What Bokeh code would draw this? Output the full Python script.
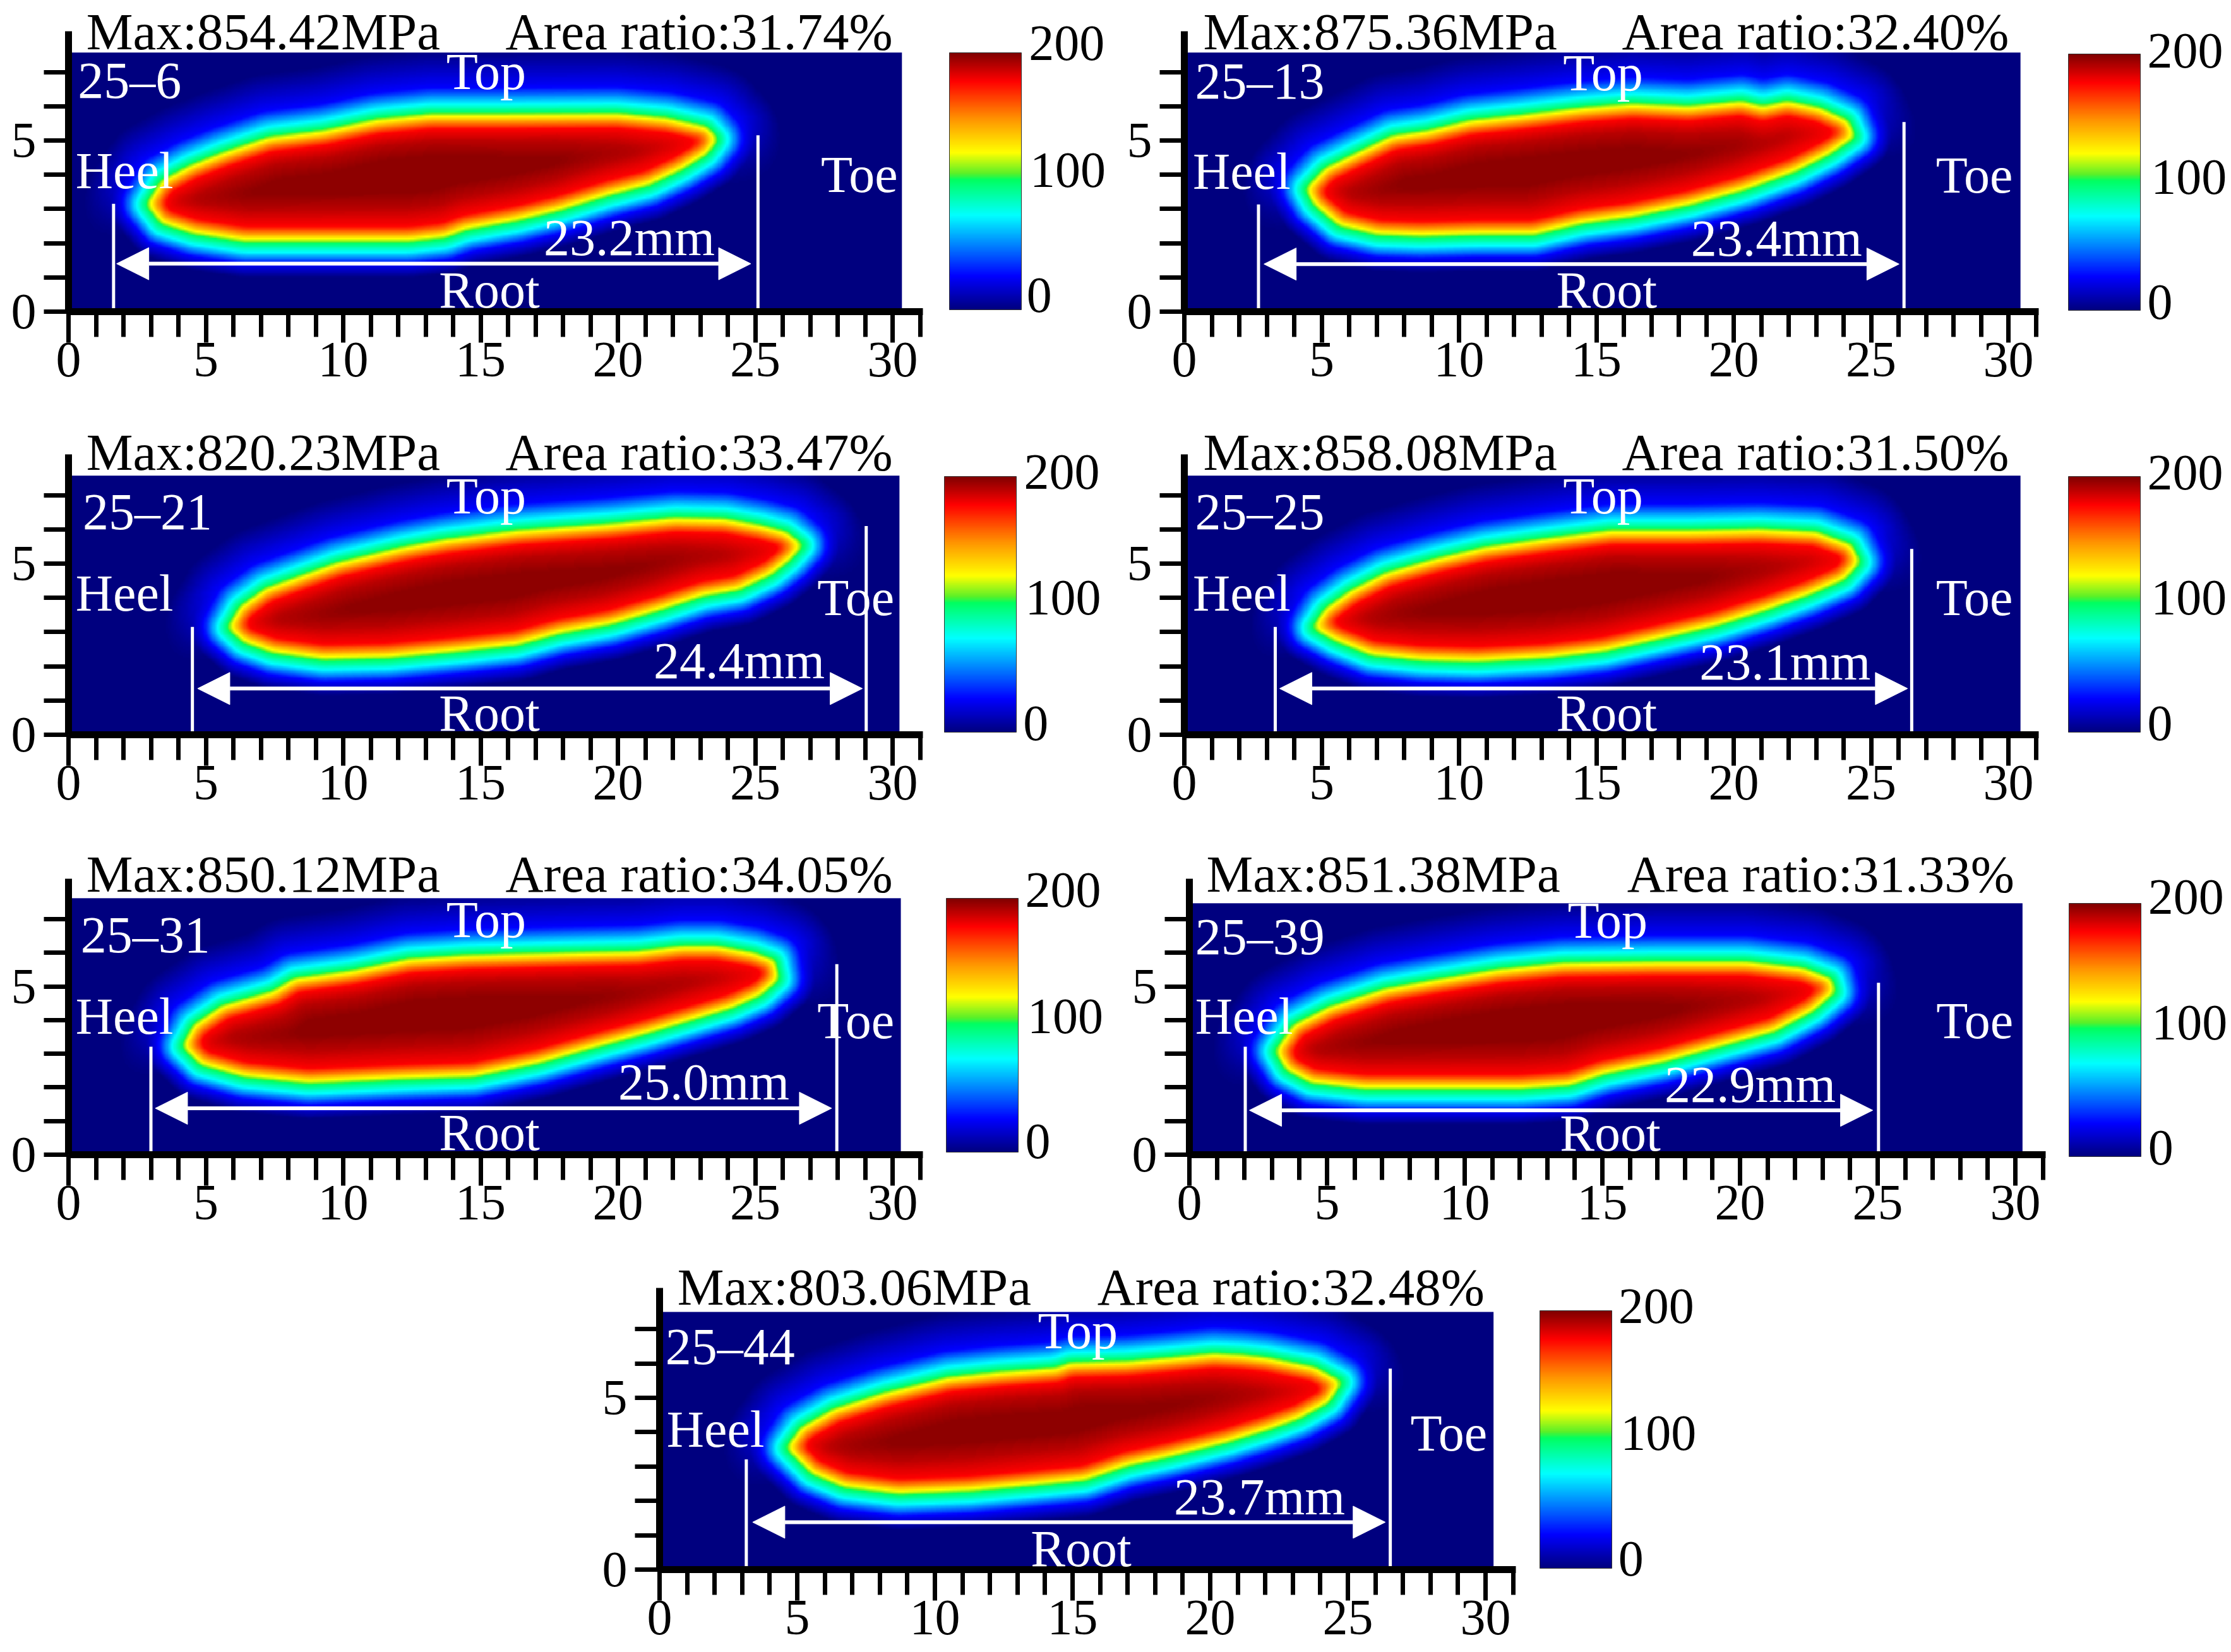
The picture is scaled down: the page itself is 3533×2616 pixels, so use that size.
import numpy as np
from bokeh.embed import file_html
from bokeh.resources import INLINE
from bokeh.plotting import figure
from bokeh.layouts import column, row
from bokeh.models import (Range1d, LinearColorMapper, ColorBar, FixedTicker, Label, Arrow,
                          NormalHead, Spacer)

# ---------- data ----------
names = ["25\u20136", "25\u201313", "25\u201321", "25\u201325", "25\u201331", "25\u201339", "25\u201344"]
max_mpa = ["854.42", "875.36", "820.23", "858.08", "850.12", "851.38", "803.06"]
area_ratio = ["31.74", "32.40", "33.47", "31.50", "34.05", "31.33", "32.48"]
weld_len = ["23.2", "23.4", "24.4", "23.1", "25.0", "22.9", "23.7"]
x_ticks = [0, 5, 10, 15, 20, 25, 30]
y_ticks = [0, 5]
cbar_ticks = [0, 100, 200]

# 100 MPa contour of each contact patch, (x mm, y mm)
outline_1 = [(2.87,3.12),(3.39,3.79),(4.44,4.24),(5.61,4.61),(7.30,5.06),(9.26,5.25),(11.22,5.58),(13.18,5.73),
             (15.78,5.73),(19.96,5.75),(21.78,5.62),(23.22,5.36),(23.61,5.02),(23.22,4.61),(22.31,4.16),(21.13,3.71),
             (19.70,3.42),(17.87,2.97),(16.31,2.67),(14.48,2.41),(13.70,2.18),(12.39,2.07),(9.26,2.07),(6.39,2.07),
             (4.57,2.29),(3.39,2.59)]
outline_2 = [(4.44,3.57),(5.14,4.16),(6.29,4.61),(7.58,5.10),(8.86,5.25),(10.40,5.55),(12.20,5.70),(14.51,5.92),
             (16.31,6.03),(18.37,5.96),(20.29,6.11),(21.06,5.96),(21.96,6.11),(23.12,5.92),(24.15,5.55),(24.40,5.10),
             (23.50,4.61),(22.22,4.09),(20.42,3.57),(18.37,3.12),(16.31,2.78),(14.51,2.59),(12.72,2.26),(10.66,2.26),
             (8.61,2.22),(7.06,2.26),(5.65,2.52),(4.75,3.12)]
outline_3 = [(5.82,3.12),(6.26,3.72),(7.17,4.24),(8.48,4.62),(9.78,4.99),(12.13,5.44),(13.70,5.67),(16.31,5.93),
             (19.70,6.12),(22.05,6.30),(23.87,6.27),(25.18,6.08),(26.09,5.89),(26.69,5.52),(26.22,5.10),(25.57,4.69),
             (24.39,4.24),(23.09,4.06),(21.52,3.65),(19.70,3.23),(17.87,2.97),(16.31,2.63),(14.22,2.45),(11.61,2.26),
             (9.26,2.22),(7.44,2.41),(6.39,2.71)]
outline_4 = [(4.70,3.12),(5.14,3.65),(6.04,4.17),(7.32,4.69),(9.12,5.10),(10.92,5.44),(13.23,5.70),(15.54,5.93),
             (18.37,5.93),(20.93,5.97),(22.99,5.89),(24.27,5.52),(24.58,5.03),(24.02,4.54),(22.73,4.09),(21.19,3.65),
             (19.39,3.20),(17.34,2.82),(15.28,2.45),(13.23,2.26),(10.66,2.15),(8.61,2.19),(6.81,2.34),(5.52,2.75)]
outline_5 = [(4.17,3.21),(4.57,3.83),(5.61,4.40),(7.44,4.82),(8.22,5.20),(10.31,5.43),(12.39,5.78),(14.48,5.89),
             (18.39,5.97),(20.74,6.01),(22.31,6.16),(23.61,6.16),(24.92,5.97),(25.70,5.74),(25.83,5.20),(25.18,4.74),
             (24.13,4.36),(22.57,3.98),(21.00,3.60),(18.91,3.14),(17.09,2.72),(14.74,2.33),(12.13,2.26),(8.74,2.14),
             (6.39,2.33),(4.83,2.68)]
outline_6 = [(3.15,3.06),(3.79,3.83),(5.08,4.36),(7.13,4.90),(8.92,5.16),(11.23,5.47),(13.54,5.66),(16.87,5.70),
             (20.21,5.70),(22.26,5.51),(23.28,5.20),(23.41,4.82),(22.64,4.28),(21.23,3.67),(19.18,3.21),(17.13,2.75),
             (15.08,2.41),(13.79,2.07),(12.00,1.97),(8.92,1.97),(6.36,1.97),(4.44,2.14),(3.54,2.52)]
outline_7 = [(4.63,3.54),(5.15,4.12),(6.32,4.65),(8.14,5.12),(10.49,5.58),(12.31,5.73),(14.39,5.85),(14.91,6.00),
             (16.99,6.04),(18.55,6.15),(20.11,6.27),(21.16,6.23),(22.07,6.15),(23.76,5.88),(24.75,5.46),(24.28,4.88),
             (23.24,4.42),(22.20,4.12),(20.63,3.73),(18.55,3.31),(16.99,3.04),(15.43,2.62),(13.35,2.46),(11.27,2.31),
             (8.67,2.23),(6.71,2.42),(5.54,2.81)]
outlines = [outline_1, outline_2, outline_3, outline_4, outline_5, outline_6, outline_7]

# marker lines: left x, left top, right x, right top; arrow y, arrow tips
line_left_x = [1.64, 2.70, 4.51, 3.31, 3.00, 2.03, 3.15]
line_left_top = [3.15, 3.13, 3.15, 3.15, 3.21, 3.21, 3.21]
line_right_x = [25.10, 26.20, 29.04, 26.48, 27.97, 25.03, 26.54]
line_right_top = [5.15, 5.54, 6.10, 5.43, 5.66, 5.11, 5.85]
arrow_y = [1.40, 1.39, 1.35, 1.35, 1.38, 1.32, 1.38]
arrow_left = [1.75, 2.90, 4.70, 3.47, 3.16, 2.18, 3.38]
arrow_right = [24.84, 26.02, 28.90, 26.33, 27.78, 24.82, 26.36]
field_right = [30.34, 30.44, 30.25, 30.44, 30.30, 30.26, 30.29]
field_top = [7.57, 7.57, 7.57, 7.57, 7.62, 7.47, 7.50]

# ---------- layout of the page ----------
SX = [43.5, 43.5, 43.5, 43.5, 43.5, 43.6, 43.6]
SY = [54.2, 54.2, 54.2, 54.2, 53.3, 53.3, 54.4]
FIG_W = [1775, 1758, 1775, 1758, 1775, 1758, 1750]
FIG_H = [618, 618, 670, 670, 665, 665, 655]
BOTTOM = [125, 125, 125, 125, 125, 125, 123]
LEFT = [108, 100, 108, 100, 108, 108, 100]
SERIF = "Liberation Serif"
FS_HEAD = "83px"
FS = "82px"
TICK_FS = "80px"
TEXT_SHIFT = 29
# text anchors (left, baseline) in axis units
T_MAX = [(.65,7.64),(.69,7.64),(.65,7.72),(.69,7.72),(.65,7.80),(.62,7.80),(.65,7.69)]
T_AREA = [(15.91,7.64),(15.93,7.64),(15.91,7.72),(15.93,7.72),(15.91,7.80),(15.90,7.80),(15.90,7.69)]
T_ID = [(.34,6.22),(.39,6.20),(.52,5.98),(.39,5.98),(.44,5.98),(.21,5.93),(.21,5.95)]
T_TOP = [(13.75,6.47),(13.79,6.44),(13.75,6.43),(13.79,6.43),(13.75,6.44),(13.74,6.41),(13.74,6.42)]
T_HEEL = [(.26,3.58),(.31,3.56),(.26,3.59),(.31,3.59),(.26,3.56),(.21,3.56),(.26,3.54)]
T_TOE = [(27.39,3.47),(27.36,3.45),(27.26,3.47),(27.36,3.47),(27.26,3.44),(27.13,3.44),(27.27,3.44)]
T_LEN = [(17.30,1.62),(18.44,1.61),(21.30,1.63),(18.75,1.58),(20.01,1.61),(17.26,1.53),(18.68,1.58)]
T_ROOT = [(13.49,.09),(13.54,.09),(13.49,.09),(13.54,.09),(13.49,.11),(13.46,.10),(13.48,.08)]
CB_LEFT = [32.09, 32.19, 31.90, 32.19, 31.96, 31.95, 31.98]
CB_BOTTOM = [.07, .05, .09, .09, .08, -.04, .05]
CB_H = [407, 406, 405, 405, 402, 401, 408]
T_CB = [[(34.88,-.06),(35.00,3.60),(34.96,7.30)],
        [(35.06,-.25),(35.19,3.40),(35.06,7.08)],
        [(34.75,-.20),(34.83,3.46),(34.78,7.14)],
        [(35.06,-.20),(35.19,3.46),(35.06,7.12)],
        [(34.83,-.15),(34.91,3.56),(34.83,7.31)],
        [(34.82,-.34),(34.95,3.38),(34.82,7.11)],
        [(34.82,-.22),(34.90,3.44),(34.82,7.13)]]

# ---------- colour scale ----------
stops = [0, .13, .367, .506, .53, .612, .74, .89, 1]
stop_rgb = [(0,0,127),(0,0,255),(0,255,255),(0,255,96),(90,240,40),(255,255,0),(255,150,0),(255,0,0),(128,0,0)]
t = np.linspace(0, 1, 256)
palette = ["#%02x%02x%02x" % tuple(int(round(np.interp(u, stops, [c[k] for c in stop_rgb]))) for k in range(3)) for u in t]
mapper = LinearColorMapper(palette=palette, low=0, high=200)


def stress_field(poly, right, top):
    """Stress around the read contour: the picture's colour bands as a function of the distance to it."""
    pts = np.array(poly + poly[:1], float)
    aspect = 43.5 / 54.2
    step = 0.05
    xs = np.arange(step / 2, right, step)
    ys = np.arange(step / 2, top, step)
    X, Y = np.meshgrid(xs, ys)
    a, b = pts[:-1], pts[1:]
    d2 = np.full(X.shape, 1e9)
    inside = np.zeros(X.shape, bool)
    for (ax, ay), (bx, by) in zip(a, b):
        ex, ey = (bx - ax) * aspect, by - ay
        px, py = (X - ax) * aspect, Y - ay
        u = np.clip((px * ex + py * ey) / (ex * ex + ey * ey), 0, 1)
        d2 = np.minimum(d2, (px - u * ex) ** 2 + (py - u * ey) ** 2)
        cross = (ay > Y) != (by > Y)
        xi = ax + (Y - ay) * (bx - ax) / (by - ay if by != ay else 1e-9)
        inside ^= cross & (X < xi)
    d = np.sqrt(d2) * np.where(inside, 1, -1)
    kernel = np.ones(7) / 7
    pad = 10
    d = np.pad(d, pad, mode="edge")
    d = np.apply_along_axis(lambda v: np.convolve(v, kernel, "same"), 0, d)
    d = np.apply_along_axis(lambda v: np.convolve(v, kernel, "same"), 1, d)
    d = d[pad:-pad, pad:-pad] + 0.08
    fit = np.polyfit(pts[:, 0], pts[:, 1], 1)
    w = np.clip((Y - np.polyval(fit, X)) / 2 + .5, 0, 1)
    # the dark core sits towards the upper, heel-side part of the patch
    span = (X - pts[:, 0].min()) / (pts[:, 0].max() - pts[:, 0].min())
    inner = (.72 + .4 * w) * np.interp(span, [0, .72, 1], [1, 1, .55])
    d = np.where(d > .5, .5 + (d - .5) * inner, d)
    dk = [.13, .28, .5, .9, 1.3]
    fin = [.5, .612, .74, .89, .95, .985]
    low = np.interp(d, [-1.0, -.6, -.26, 0] + dk, [0, .13, .367] + fin)
    upp = np.interp(d, [-1.8, -.72, -.24, 0] + dk, [0, .13, .367] + fin)
    return (low * (1 - w) + upp * w) * 200


def panel(i):
    sx, sy = SX[i], SY[i]
    W, H, B, L = FIG_W[i], FIG_H[i], BOTTOM[i], LEFT[i]
    p = figure(width=W, height=H, output_backend="svg", toolbar_location=None,
               x_range=Range1d(-L / sx, (W - L) / sx), y_range=Range1d(-B / sy, (H - B) / sy),
               min_border=0, background_fill_color="white", border_fill_color="white", outline_line_color=None)
    p.grid.visible = False
    z = stress_field(outlines[i], field_right[i], field_top[i])
    p.image(image=[z], x=0, y=0, dw=field_right[i], dh=field_top[i], color_mapper=mapper)

    xa, ya = p.xaxis[0], p.yaxis[0]
    xa.fixed_location = 0
    ya.fixed_location = 0
    xa.ticker = FixedTicker(ticks=x_ticks, minor_ticks=[v for v in range(32) if v % 5])
    ya.ticker = FixedTicker(ticks=y_ticks, minor_ticks=[1, 2, 3, 4, 6, 7])
    xa.bounds = (0, 31.1)
    ya.bounds = (0, 8.2)
    for ax in (xa, ya):
        ax.axis_line_width = 11
        ax.axis_line_color = "black"
        ax.major_tick_line_width = 7
        ax.minor_tick_line_width = 7
        ax.major_tick_line_color = "black"
        ax.minor_tick_line_color = "black"
        ax.major_tick_in = 0
        ax.minor_tick_in = 0
        ax.major_label_text_font = SERIF
        ax.major_label_text_font_size = TICK_FS
        ax.major_label_text_color = "black"
    xa.major_tick_out = 49
    xa.minor_tick_out = 40
    ya.major_tick_out = 39
    ya.minor_tick_out = 39
    xa.major_label_standoff = 0
    ya.major_label_standoff = 12

    # white measuring lines and double arrow
    p.segment(x0=[line_left_x[i], line_right_x[i]], y0=[0, 0],
              x1=[line_left_x[i], line_right_x[i]], y1=[line_left_top[i], line_right_top[i]],
              line_color="white", line_width=5)
    head = dict(size=51, fill_color="white", line_color="white", line_width=1)
    p.add_layout(Arrow(x_start=arrow_left[i], x_end=arrow_right[i], y_start=arrow_y[i], y_end=arrow_y[i],
                       start=NormalHead(**head), end=NormalHead(**head), line_color="white", line_width=6))

    def txt(text, pos, color, size=FS):
        p.add_layout(Label(x=pos[0], y=pos[1], y_offset=TEXT_SHIFT, text=text, text_font=SERIF, text_font_size=size,
                           text_color=color, text_baseline="alphabetic", text_align="left"))

    txt("Max:%sMPa" % max_mpa[i], T_MAX[i], "black", FS_HEAD)
    txt("Area ratio:%s%%" % area_ratio[i], T_AREA[i], "black", FS_HEAD)
    txt(names[i], T_ID[i], "white")
    txt("Top", T_TOP[i], "white")
    txt("Heel", T_HEEL[i], "white")
    txt("Toe", T_TOE[i], "white")
    txt("%smm" % weld_len[i], T_LEN[i], "white")
    txt("Root", T_ROOT[i], "white")

    cb = ColorBar(color_mapper=mapper, ticker=FixedTicker(ticks=[]), width=114, height=CB_H[i],
                  location=(int(L + CB_LEFT[i] * sx), int(B + CB_BOTTOM[i] * sy)), padding=0, margin=0,
                  major_tick_line_color=None, minor_tick_line_color=None,
                  bar_line_color="#333333", bar_line_width=1,
                  background_fill_color=None, border_line_color=None)
    p.add_layout(cb, "center")
    for v, pos in zip(cbar_ticks, T_CB[i]):
        txt(str(v), pos, "black", TICK_FS)
    return p


panels = [panel(i) for i in range(7)]
page = column(
    row(panels[0], panels[1], spacing=0),
    row(panels[2], panels[3], spacing=0),
    row(panels[4], panels[5], spacing=0),
    row(Spacer(width=944, height=10), panels[6], spacing=0),
    spacing=0,
)
open("out.html", "w").write(file_html(page, INLINE))
